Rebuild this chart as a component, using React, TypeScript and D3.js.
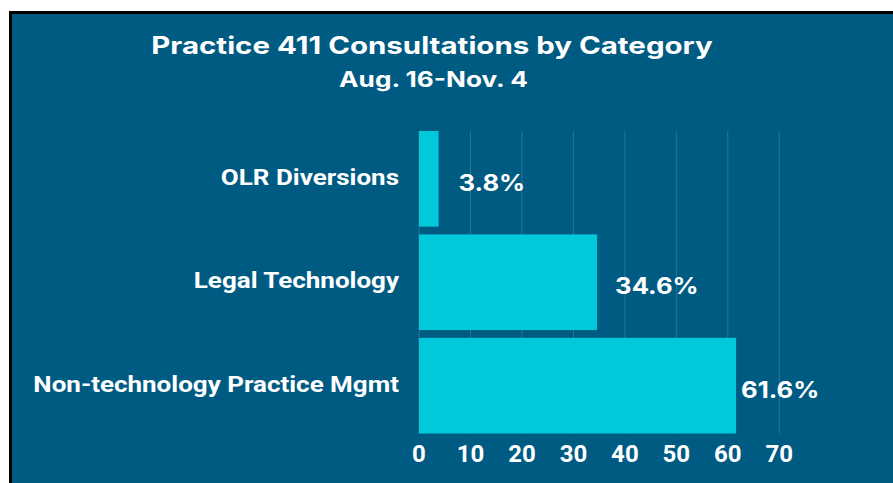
import React from "react";
import * as d3 from "d3";

const categories = ["OLR Diversions", "Legal Technology", "Non-technology Practice Mgmt"];
const values = [3.8, 34.6, 61.6];
const valueLabels = ["3.8%", "34.6%", "61.6%"];
const tickValues = [0, 10, 20, 30, 40, 50, 60, 70];
const titleText = "Practice 411 Consultations by Category";
const subtitleText = "Aug. 16-Nov. 4";

const labelDx = [20, 18, 5];

const W = 893;
const H = 483;
const BG = "#005b82";
const BAR = "#00c9dc";

export default function App() {
  const x = d3.scaleLinear().domain([0, 70]).range([419, 779.3]);
  const y = d3
    .scaleBand<string>()
    .domain(categories)
    .range([131, 433.5])
    .paddingInner(0.075)
    .paddingOuter(0);
  const titleFont = "Inter, 'Open Sans', sans-serif";
  const labelFont = "Roboto, 'Liberation Sans', Arial, sans-serif";
  return (
    <svg
      width={W}
      height={H}
      style={{ position: "absolute", left: 0, top: 0, display: "block" }}
    >
      <rect x={0} y={0} width={W} height={H} fill="#ffffff" />
      <rect x={9} y={11} width={W} height={H} fill="#000000" />
      <rect x={12} y={14} width={W} height={H} fill={BG} />
      {tickValues.map((t) => (
        <line
          key={"g" + t}
          x1={x(t)}
          x2={x(t)}
          y1={131}
          y2={433.5}
          stroke="rgba(255,255,255,0.16)"
          strokeWidth={1}
        />
      ))}
      {categories.map((c, i) => (
        <rect
          key={c}
          x={x(0)}
          y={y(c)}
          width={x(values[i]) - x(0)}
          height={y.bandwidth()}
          fill={BAR}
        />
      ))}
      {categories.map((c) => (
        <text
          key={"l" + c}
          transform={`translate(399,${(y(c) as number) + y.bandwidth() / 2 + 6}) scale(1.22,1)`}
          textAnchor="end"
          fill="#ffffff"
          fontFamily={labelFont}
          fontWeight={700}
          fontSize={21.3}
        >
          {c}
        </text>
      ))}
      {categories.map((c, i) => (
        <text
          key={"v" + c}
          transform={`translate(${x(values[i]) + labelDx[i]},${(y(c) as number) + y.bandwidth() / 2 + 12}) scale(1.14,1)`}
          fill="#ffffff"
          fontFamily={titleFont}
          fontWeight={700}
          fontSize={22.5}
        >
          {valueLabels[i]}
        </text>
      ))}
      {tickValues.map((t) => (
        <text
          key={"t" + t}
          x={x(t)}
          y={462}
          textAnchor="middle"
          fill="#ffffff"
          fontFamily={labelFont}
          fontWeight={700}
          fontSize={24}
        >
          {t}
        </text>
      ))}
      <text
        transform="translate(432,53.5) scale(1.228,1)"
        textAnchor="middle"
        fill="#ffffff"
        fontFamily={titleFont}
        fontWeight={700}
        fontSize={24}
      >
        {titleText}
      </text>
      <text
        transform="translate(433.5,87) scale(1.245,1)"
        textAnchor="middle"
        fill="#ffffff"
        fontFamily={titleFont}
        fontWeight={700}
        fontSize={21}
      >
        {subtitleText}
      </text>
    </svg>
  );
}
